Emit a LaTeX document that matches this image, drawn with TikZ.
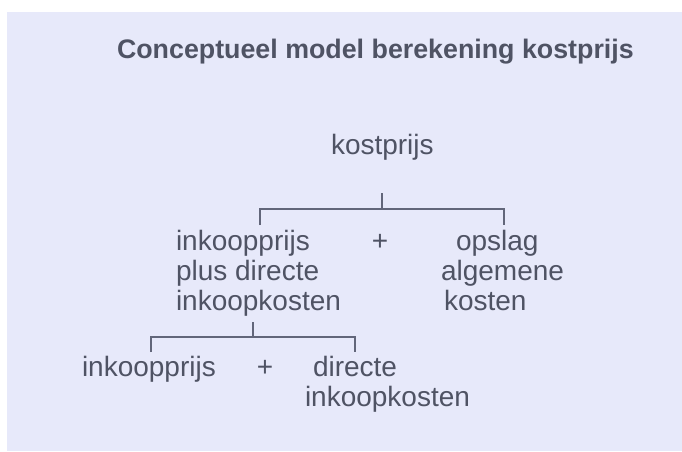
\documentclass[tikz,border=0pt]{standalone}
\usepackage{fontspec}
\setmainfont{Liberation Sans}
\definecolor{bgc}{HTML}{E7E9FA}
\definecolor{txt}{HTML}{4F5364}
\definecolor{lnc}{HTML}{62667A}
\begin{document}
\begin{tikzpicture}[x=1pt,y=-1pt,
  lbl/.style={inner sep=0pt,outer sep=0pt,text=txt,font=\fontsize{28}{30}\selectfont},
  ttl/.style={inner sep=0pt,outer sep=0pt,text=txt,font=\bfseries\fontsize{26.8}{30}\selectfont},
  brk/.style={draw=lnc,line width=2pt}]
\useasboundingbox (0,0) rectangle (682,451);
\fill[white] (0,0) rectangle (682,451);
\fill[bgc] (7,12) rectangle (682,451);
\node[ttl,anchor=base west] (title) at (117,58) {Conceptueel model berekening kostprijs};
\node[lbl,anchor=base west] (kp) at (331,154) {kostprijs};
\node[lbl,anchor=base west,align=left] (ipd) at (176,310) {inkoopprijs\\plus directe\\inkoopkosten};
\node[lbl,anchor=base] (plus1) at (380,250) {+};
\node[lbl,anchor=base west] (ops1) at (456,250) {opslag};
\node[lbl,anchor=base west] (ops2) at (441,280) {algemene};
\node[lbl,anchor=base west] (ops3) at (444,310) {kosten};
\node[lbl,anchor=base west] (ip) at (82,376) {inkoopprijs};
\node[lbl,anchor=base] (plus2) at (265,376) {+};
\node[lbl,anchor=base west] (dir1) at (313,376) {directe};
\node[lbl,anchor=base west] (dir2) at (305,406) {inkoopkosten};
% upper bracket
\coordinate (t1) at (382,193);
\coordinate (h1) at (382,209);
\coordinate (l1) at (260,225);
\coordinate (r1) at (504,225);
\draw[brk] (t1) -- (h1);
\draw[brk] (l1) |- (h1) -| (r1);
% lower bracket
\coordinate (t2) at (253,322);
\coordinate (h2) at (253,337);
\coordinate (l2) at (151,352);
\coordinate (r2) at (355,352);
\draw[brk] (t2) -- (h2);
\draw[brk] (l2) |- (h2) -| (r2);
\end{tikzpicture}
\end{document}
